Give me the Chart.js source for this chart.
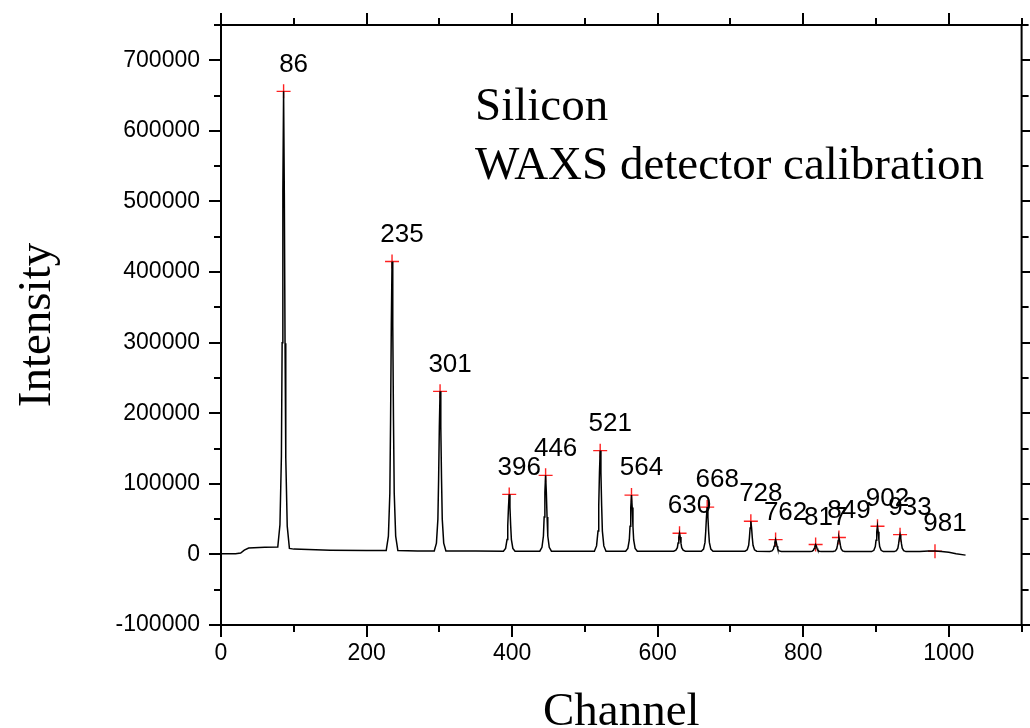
<!DOCTYPE html>
<html>
<head>
<meta charset="utf-8">
<title>Silicon WAXS detector calibration</title>
<script src="https://cdn.jsdelivr.net/npm/chart.js@4.4.1/dist/chart.umd.min.js"></script>
<style>
  body { margin: 0; background: #fff; }
  #wrap { width: 1030px; height: 728px; }
</style>
</head>
<body>
<div id="wrap"><canvas id="myChart" width="1030" height="728"></canvas></div>
<script>
// spectrum (channel, counts)
const channel = [
  0, 20, 27, 32, 38, 60,
  78, 81, 83, 84, 85, 86, 87, 88, 89, 91, 94,
  100, 150, 200,
  227, 230, 232, 233, 234, 235, 236, 237, 238, 240, 243,
  270,
  293, 296, 298, 299, 300, 301, 302, 303, 304, 306, 309,
  350,
  388, 391, 393, 394, 395, 396, 397, 398, 399, 401, 404,
  438, 441, 443, 444, 445, 446, 447, 448, 449, 451, 454,
  480,
  513, 516, 518, 519, 520, 521, 522, 523, 524, 526, 529,
  556, 559, 561, 562, 563, 564, 565, 566, 567, 569, 572,
  600,
  622, 625, 627, 628, 629, 630, 631, 632, 633, 635, 638,
  660, 663, 665, 666, 667, 668, 669, 670, 671, 673, 676,
  700,
  720, 723, 725, 726, 727, 728, 729, 730, 731, 733, 736,
  754, 757, 759, 760, 761, 762, 763, 764, 765, 767, 770,
  790,
  809, 812, 814, 815, 816, 817, 818, 819, 820, 822, 825,
  841, 844, 846, 847, 848, 849, 850, 851, 852, 854, 857,
  875,
  894, 897, 899, 900, 901, 902, 903, 904, 905, 907, 910,
  925, 928, 930, 931, 932, 933, 934, 935, 936, 938, 941,
  960, 972, 981, 990, 1000, 1010, 1023
];
const intensity = [
  1000, 1000, 2000, 6000, 9000, 10000,
  10500, 42000, 139000, 300000, 514000, 656000, 512000, 299000, 137000, 40000, 8500,
  7500, 6000, 5500,
  5500, 26000, 87000, 190000, 325000, 415000, 325000, 190000, 87000, 26000, 5500,
  5000,
  5000, 16000, 50000, 107000, 181000, 231000, 181000, 107000, 50000, 16000, 5000,
  5000,
  4500, 8500, 21000, 41000, 67000, 85000, 67000, 41000, 21000, 8500, 4500,
  4500, 10000, 26000, 53000, 88000, 112000, 88000, 53000, 26000, 10000, 4500,
  4500,
  4500, 12000, 33000, 69000, 116000, 147000, 116000, 69000, 33000, 12000, 4500,
  4500, 8500, 20500, 40000, 66500, 84000, 66500, 40000, 20500, 8500, 4500,
  4500,
  4500, 6000, 9500, 16000, 24500, 30000, 24500, 16000, 9500, 6000, 4500,
  4500, 7500, 17000, 32500, 53000, 67000, 53000, 32500, 17000, 7500, 4500,
  4500,
  4500, 6500, 13000, 23500, 37500, 47000, 37500, 23500, 13000, 6500, 4500,
  4000, 5000, 7500, 11500, 17000, 21000, 17000, 11500, 7500, 5000, 4000,
  4000,
  4000, 4500, 6000, 8500, 11800, 14000, 11800, 8500, 6000, 4500, 4000,
  4000, 5000, 8000, 13000, 19600, 24000, 19600, 13000, 8000, 5000, 4000,
  4000,
  4000, 5800, 11000, 20000, 32000, 40000, 32000, 20000, 11000, 5800, 4000,
  4000, 5200, 8800, 14800, 22700, 28000, 22700, 14800, 8800, 5200, 4000,
  4000, 5000, 5000, 4000, 3000, 1000, -1000
];

// found peaks (red crosses)
const peakChannel = [86, 235, 301, 396, 446, 521, 564, 630, 668, 728, 762, 817, 849, 902, 933, 981];
const peakIntensity = [656000, 415000, 231000, 85000, 112000, 147000, 84000, 30000, 67000, 47000, 21000, 14000, 24000, 40000, 28000, 4500];

const xTicks = [0, 200, 400, 600, 800, 1000];
const yTicks = [-100000, 0, 100000, 200000, 300000, 400000, 500000, 600000, 700000];
const noteLines = ['Silicon', 'WAXS detector calibration'];
const noteAt = { x: 349, y: [616000, 532000] };

const SANS = '"Liberation Sans", Arial, sans-serif';
const SERIF = '"Liberation Serif", "Times New Roman", serif';

const frame = {
  id: 'frame',
  afterDraw(chart) {
    const c = chart.ctx;
    const a = chart.chartArea;
    const xs = chart.scales.x;
    const ys = chart.scales.y;
    c.save();
    c.strokeStyle = '#000';
    c.lineWidth = 2;
    c.strokeRect(a.left, a.top, a.right - a.left, a.bottom - a.top);

    c.beginPath();
    for (let v = 0; v <= 1100; v += 100) {
      const px = Math.round(xs.getPixelForValue(v));
      const len = v % 200 === 0 ? 12 : 7;
      c.moveTo(px, a.bottom); c.lineTo(px, a.bottom + len);
      c.moveTo(px, a.top); c.lineTo(px, a.top - len);
    }
    for (let v = -100000; v <= 750000; v += 50000) {
      const py = Math.round(ys.getPixelForValue(v));
      const len = v % 100000 === 0 ? 12 : 7;
      c.moveTo(a.left, py); c.lineTo(a.left - len, py);
      c.moveTo(a.right, py); c.lineTo(a.right + len, py);
    }
    c.stroke();

    // peak numbers
    c.fillStyle = '#000';
    c.font = '26px ' + SANS;
    c.textAlign = 'center';
    c.textBaseline = 'middle';
    peakChannel.forEach((p, i) => {
      const px = xs.getPixelForValue(p);
      const py = ys.getPixelForValue(peakIntensity[i]);
      c.fillText(String(p), px + 10, py - 27);
    });

    // note
    c.font = '47px ' + SERIF;
    c.textAlign = 'left';
    c.textBaseline = 'alphabetic';
    noteLines.forEach((t, i) => {
      c.fillText(t, xs.getPixelForValue(noteAt.x), ys.getPixelForValue(noteAt.y[i]));
    });

    // axis titles
    c.textAlign = 'center';
    c.fillText('Channel', (a.left + a.right) / 2, 725);
    c.translate(50, (a.top + a.bottom) / 2);
    c.rotate(-Math.PI / 2);
    c.fillText('Intensity', 0, 0);
    c.restore();
  }
};

const ctx = document.getElementById('myChart').getContext('2d');
const myChart = new Chart(ctx, {
  type: 'line',
  data: {
    datasets: [{
      label: 'spectrum',
      data: channel.map((c, i) => ({ x: c, y: intensity[i] })),
      borderColor: '#000',
      borderWidth: 1.5,
      pointRadius: 0,
      tension: 0,
      fill: false
    }, {
      type: 'scatter',
      label: 'peaks',
      data: peakChannel.map((c, i) => ({ x: c, y: peakIntensity[i] })),
      pointStyle: 'cross',
      pointRadius: 7,
      borderColor: '#ff2020',
      borderWidth: 1.4,
      showLine: false
    }]
  },
  options: {
    responsive: false,
    animation: false,
    layout: { padding: { left: 0, right: 5, top: 25, bottom: 0 } },
    plugins: { legend: { display: false }, tooltip: { enabled: false } },
    scales: {
      x: {
        type: 'linear',
        min: 0,
        max: 1100,
        afterFit: (s) => { s.height = 103; s.paddingLeft = 0; s.paddingRight = 0; },
        afterBuildTicks: (s) => { s.ticks = xTicks.map(v => ({ value: v })); },
        ticks: {
          color: '#000',
          font: { family: SANS, size: 23 },
          padding: 15,
          maxRotation: 0,
          callback: (v) => String(v)
        },
        grid: { display: false, drawTicks: false },
        border: { display: false }
      },
      y: {
        min: -100000,
        max: 750000,
        afterFit: (s) => { s.width = 221; s.paddingTop = 0; s.paddingBottom = 0; },
        afterBuildTicks: (s) => { s.ticks = yTicks.map(v => ({ value: v })); },
        ticks: {
          color: '#000',
          font: { family: SANS, size: 23 },
          padding: 21,
          callback: (v) => String(v)
        },
        grid: { display: false, drawTicks: false },
        border: { display: false }
      }
    }
  },
  plugins: [frame]
});
</script>
</body>
</html>
